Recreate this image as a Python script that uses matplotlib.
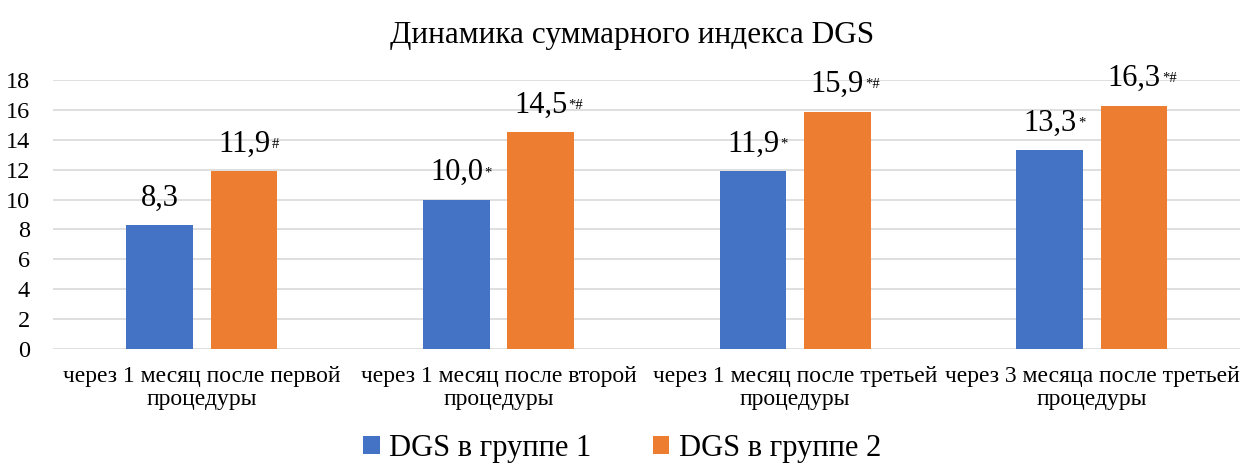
import numpy as np
import matplotlib.pyplot as plt

categories = ['через 1 месяц после первой\nпроцедуры',
              'через 1 месяц после второй\nпроцедуры',
              'через 1 месяц после третьей\nпроцедуры',
              'через 3 месяца после третьей\nпроцедуры']
group1 = [8.3, 10.0, 11.9, 13.3]
group2 = [11.9, 14.5, 15.9, 16.3]
marks1 = ['', '*', '*', '*']
marks2 = ['#', '*#', '*#', '*#']
series_names = ['DGS в группе 1', 'DGS в группе 2']
title = 'Динамика суммарного индекса DGS'

plt.rcParams['font.family'] = ['Liberation Serif', 'DejaVu Serif']

fig = plt.figure(figsize=(12.44, 4.69), dpi=100)
ax = fig.add_axes([0.043, 0.256, 0.954, 0.573])

x = np.arange(len(categories))
w = 0.225
off = 0.142
b1 = ax.bar(x - off, group1, w, color='#4472C4', label=series_names[0], zorder=3)
b2 = ax.bar(x + off, group2, w, color='#ED7D31', label=series_names[1], zorder=3)

def put_labels(bars, vals, marks):
    for bar, v, m in zip(bars, vals, marks):
        cx = bar.get_x() + bar.get_width() / 2
        t = ax.annotate(f'{v:.1f}'.replace('.', ','), xy=(cx, v), xytext=(0, 9),
                        textcoords='offset points', ha='center', va='bottom',
                        fontsize=22, annotation_clip=False)
        if m:
            ax.annotate(m, xy=(1.0, 0.5), xytext=(1, 0), textcoords='offset points',
                        xycoords=t, ha='left', va='center', fontsize=10.5)

put_labels(b1, group1, marks1)
put_labels(b2, group2, marks2)

ax.set_ylim(0, 18)
ax.set_xlim(-0.5, len(categories) - 0.5)
ax.set_yticks(np.arange(0, 19, 2))
ax.yaxis.grid(True, color='#D9D9D9', linewidth=1.2, zorder=0)
ax.set_axisbelow(True)
for s in ax.spines.values():
    s.set_visible(False)
ax.tick_params(axis='y', length=0, labelsize=17.5, pad=17)
ax.tick_params(axis='x', length=0, labelsize=17, pad=12)
ax.set_xticks(x)
ax.set_xticklabels(categories, linespacing=1.15)

fig.suptitle(title, x=0.508, fontsize=22.5, y=0.955)

fig.legend(handles=[b1, b2], loc='lower center', bbox_to_anchor=(0.5, -0.045),
           ncol=2, frameon=False, fontsize=22, handlelength=0.55, handleheight=0.55,
           handletextpad=0.3, columnspacing=2.0)

fig.savefig('out.png', dpi=100)
